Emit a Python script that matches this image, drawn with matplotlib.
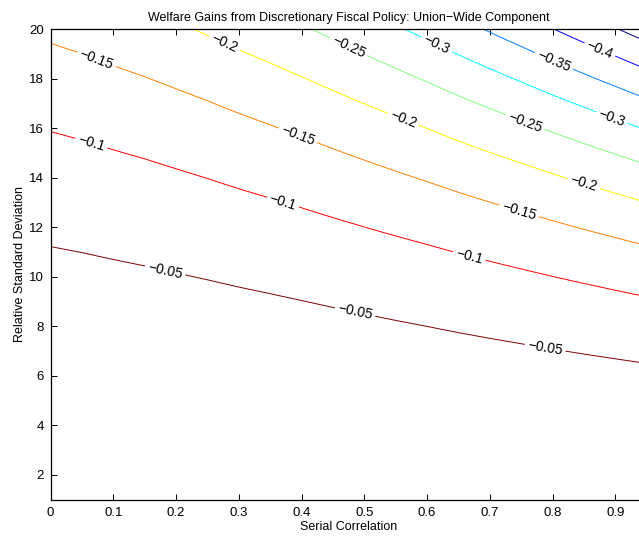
import numpy as np
import matplotlib
matplotlib.use("Agg")
import matplotlib.pyplot as plt

plt.rcParams['font.family'] = ['Liberation Sans', 'DejaVu Sans']

# ---- data ----
# serial correlation grid
rho = [0.00, 0.05, 0.10, 0.15, 0.20, 0.25, 0.30, 0.35, 0.40, 0.45,
       0.50, 0.55, 0.60, 0.65, 0.70, 0.75, 0.80, 0.85, 0.90, 0.95]
# relative welfare scaling with serial correlation (1 at rho = 0)
rho_scale = [1.00, 1.045, 1.10, 1.155, 1.22, 1.29, 1.37, 1.45, 1.54, 1.64,
             1.745, 1.855, 1.97, 2.10, 2.23, 2.365, 2.51, 2.66, 2.815, 2.98]
# welfare gain per unit of variance of relative std. dev. at rho = 0
gain_per_var = -0.000397
# relative standard deviation grid
sigma = np.arange(1.0, 20.001, 0.25)
# contour levels
levels = [-0.45, -0.40, -0.35, -0.30, -0.25, -0.20, -0.15, -0.10, -0.05]
xticks = [0, 0.1, 0.2, 0.3, 0.4, 0.5, 0.6, 0.7, 0.8, 0.9]
yticks = [2, 4, 6, 8, 10, 12, 14, 16, 18, 20]

# MATLAB-jet style colours for the levels (low -> high)
level_colors = [(0, 0, 0.5), (0, 0, 1), (0, 0.5, 1), (0, 1, 1), (0.5, 1, 0.5),
                (1, 1, 0), (1, 0.5, 0), (1, 0, 0), (0.5, 0, 0)]

# label placement (data coordinates)
label_pos = [(0.182, 10.19), (0.485, 8.54), (0.788, 7.12),
             (0.063, 15.24), (0.370, 12.98), (0.668, 10.92),
             (0.071, 18.64), (0.397, 15.93), (0.756, 13.51),
             (0.278, 19.49), (0.565, 16.54), (0.852, 13.91),
             (0.474, 19.24), (0.756, 16.21),
             (0.616, 19.41), (0.895, 16.46),
             (0.804, 18.84),
             (0.875, 19.16)]

R, S = np.meshgrid(np.array(rho), sigma)
Z = gain_per_var * S ** 2 * np.array(rho_scale)[None, :]

W, H = 639, 537
fig = plt.figure(figsize=(W / 100, H / 100), dpi=100)
left, right_px, top_px, bot_px = 50.6, 646.7, 29.3, 499.6
ax = fig.add_axes([left / W, (H - bot_px) / H, (right_px - left) / W, (bot_px - top_px) / H])

cs = ax.contour(R, S, Z, levels=levels, colors=level_colors, linewidths=0.7)

def fmt(v):
    return f"{v:g}".replace('-', '\u2212')

ax.clabel(cs, inline=True, fontsize=10, fmt=fmt,
          colors='black', manual=label_pos, inline_spacing=3)

ax.set_xlim(0, 0.95)
ax.set_ylim(1, 20)
ax.set_xticks(xticks)
ax.set_xticklabels([f"{t:g}" for t in xticks])
ax.set_yticks(yticks)
ax.tick_params(direction='in', top=True, right=True, length=4, width=0.7,
               labelsize=9.5, pad=5)
for sp in ax.spines.values():
    sp.set_linewidth(0.9)

ax.set_title('Welfare Gains from Discretionary Fiscal Policy: Union\u2212Wide Component',
             fontsize=9, pad=6)
ax.set_xlabel('Serial Correlation', fontsize=9, labelpad=2)
ax.set_ylabel('Relative Standard Deviation', fontsize=9, labelpad=2)

fig.savefig('out.png', dpi=100)
